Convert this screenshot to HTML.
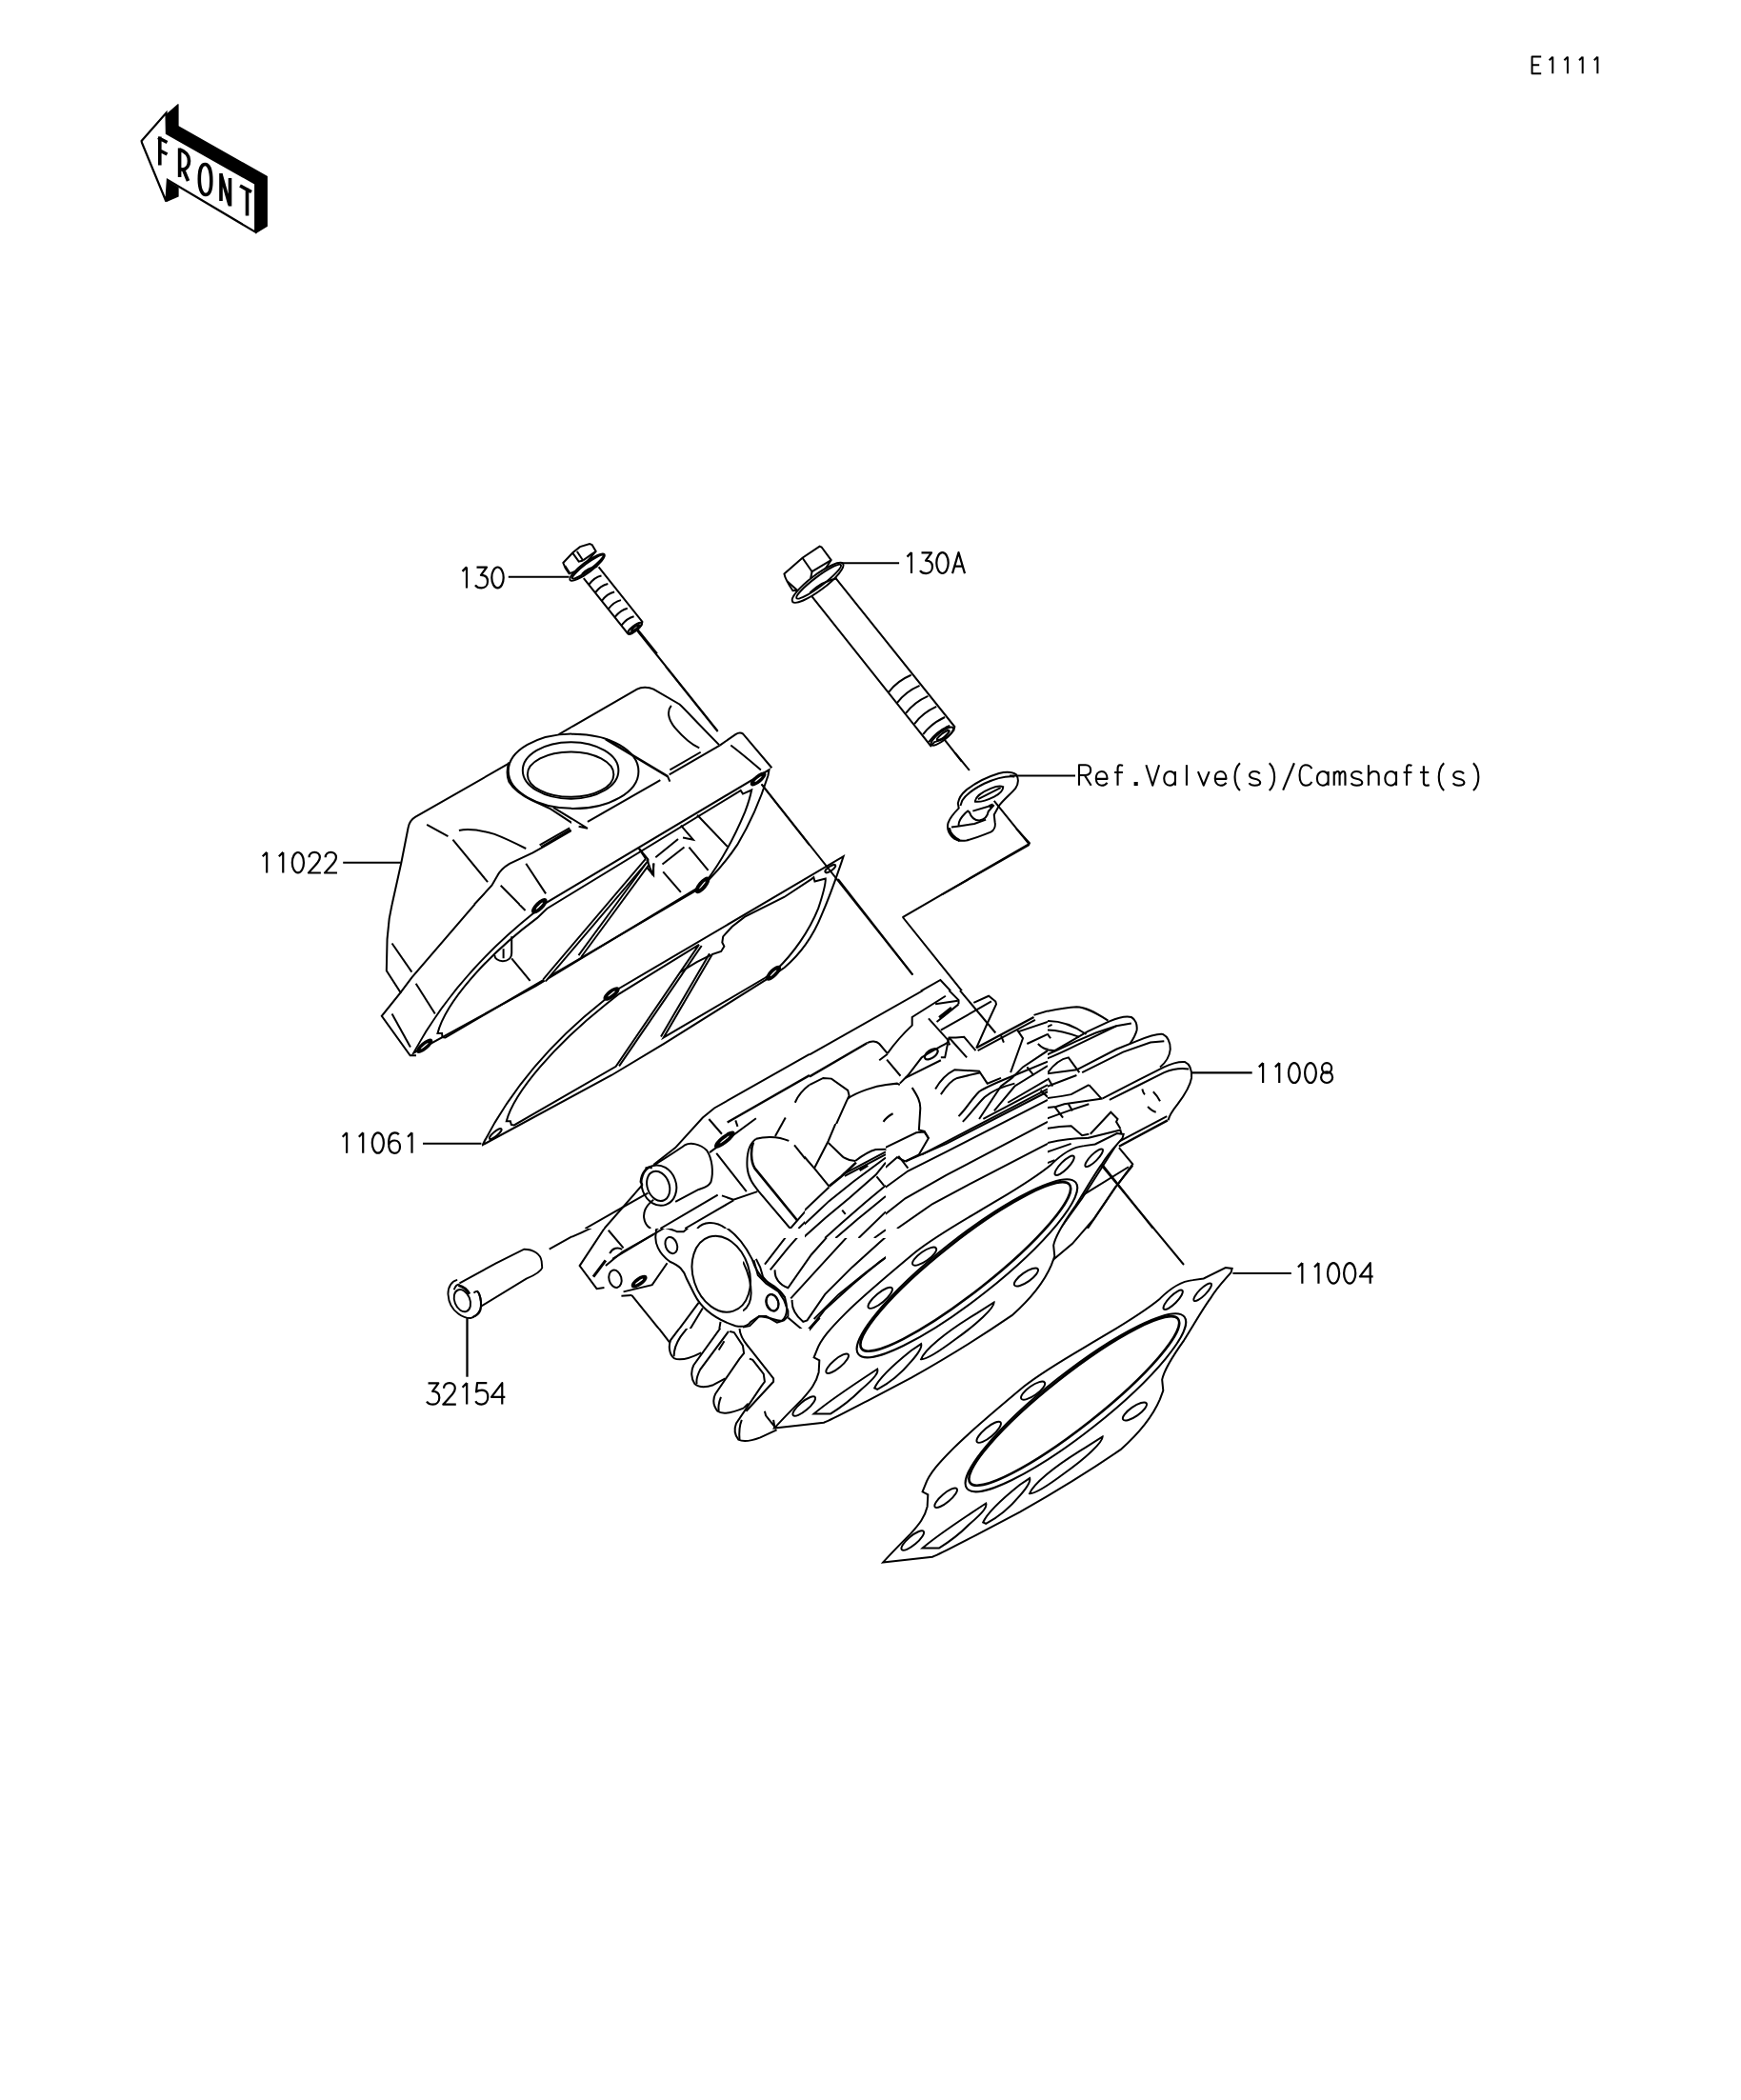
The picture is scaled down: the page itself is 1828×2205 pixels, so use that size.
<!DOCTYPE html>
<html><head><meta charset="utf-8"><style>
html,body{margin:0;padding:0;background:#fff;}
svg{display:block;}
</style></head><body>
<svg xmlns="http://www.w3.org/2000/svg" width="1828" height="2205" viewBox="0 0 1828 2205">
<rect width="1828" height="2205" fill="#fff"/>
<g id="front">
<path d="M174.9,119.5 L186.6,109.3 L187.6,109.3 L187.6,132.2 L280.9,185 L280.9,237.7 L268.2,245.5 L268.2,192.8 L174.9,140 Z" fill="#000"/>
<path d="M175,189 L187.6,196.7 L187.6,206.4 L174.4,212.3 Z" fill="#000"/>
<path d="M148.6,148 L174.5,118.5 L174.9,140 L268.2,192.8 L268.2,243.6 L175.9,188.9 L174.4,211.5 L149,150 Z" fill="#fff" stroke="#000" stroke-width="2.2" stroke-linejoin="miter"/>
<g fill="none" stroke="#000" stroke-width="3.6" stroke-linecap="butt">
<path d="M167.8,143.5 V173.5 M166,144.5 L175.5,149.5 M167.8,158 L175.5,162"/>
<path d="M188.6,155.5 V186 M188.6,157 C195,159 198.5,163 198.5,169 C198.5,174 196,177.5 192,178 L188.6,177.5 M192.5,178 L197.5,190"/>
<path d="M215.3,172.5 C219.5,172.5 221.8,180 221.8,190 C221.8,200 219.5,204.5 216,204.5 C212,204.5 209.3,198 209.3,188 C209.3,178.5 211.5,172.5 215.3,172.5 Z"/>
<path d="M232,182 V211 M232,183 L241,215 M241.5,187 V216.5"/>
<path d="M252,195 L264,201.5 M259.5,197.5 V226.5"/>
</g></g>
<g fill="none" stroke="#000" stroke-width="2.500" stroke-linecap="butt" stroke-linejoin="round" ><g transform="translate(1607.80,59.60) scale(0.8000)"><path d="M13,0 H1 V22 H13 M1,10.7 H10.5"/></g><g transform="translate(1623.50,59.60) scale(0.8000)"><path d="M8.5,0 V22 M8.5,0 L4,4.5"/></g><g transform="translate(1639.20,59.60) scale(0.8000)"><path d="M8.5,0 V22 M8.5,0 L4,4.5"/></g><g transform="translate(1654.90,59.60) scale(0.8000)"><path d="M8.5,0 V22 M8.5,0 L4,4.5"/></g><g transform="translate(1670.60,59.60) scale(0.8000)"><path d="M8.5,0 V22 M8.5,0 L4,4.5"/></g></g>
<g fill="none" stroke="#000" stroke-width="2.200" stroke-linecap="butt" stroke-linejoin="round" ><g transform="translate(481.50,595.40) scale(1.0000)"><path d="M8.5,0 V22 M8.5,0 L4,4.5"/></g><g transform="translate(498.50,595.40) scale(1.0000)"><path d="M2,0.2 H12.5 L6.5,8.5 C11,8.5 13.5,11 13.5,15 C13.5,19.5 10.5,22 7,22 C4,22 1.8,21 0.5,19"/></g><g transform="translate(515.50,595.40) scale(1.0000)"><ellipse cx="7" cy="11" rx="6.2" ry="10.9"/></g></g>
<g fill="none" stroke="#000" stroke-width="2.200" stroke-linecap="butt" stroke-linejoin="round" ><g transform="translate(948.50,580.10) scale(1.0000)"><path d="M8.5,0 V22 M8.5,0 L4,4.5"/></g><g transform="translate(965.50,580.10) scale(1.0000)"><path d="M2,0.2 H12.5 L6.5,8.5 C11,8.5 13.5,11 13.5,15 C13.5,19.5 10.5,22 7,22 C4,22 1.8,21 0.5,19"/></g><g transform="translate(982.50,580.10) scale(1.0000)"><ellipse cx="7" cy="11" rx="6.2" ry="10.9"/></g><g transform="translate(999.50,580.10) scale(1.0000)"><path d="M0.5,22 L7,0 L13.5,22 M2.8,14.5 H11.2"/></g></g>
<g fill="none" stroke="#000" stroke-width="2.149" stroke-linecap="butt" stroke-linejoin="round" ><g transform="translate(1132.00,803.20) scale(0.9773)"><path d="M1,22 V0 H8 C11.5,0 13.5,2.5 13.5,5.5 C13.5,9 11.5,11 8,11 H1 M7,11 L14,22"/></g><g transform="translate(1149.85,803.20) scale(0.9773)"><path d="M1,15 H13 C13,10 10.5,7 7,7 C3,7 1,10.5 1,14.5 C1,19 3.5,22 7,22 C9.5,22 11.5,21 13,19"/></g><g transform="translate(1167.70,803.20) scale(0.9773)"><path d="M11.5,0.8 C10.5,0.2 9.5,0 8.5,0 C6.8,0 6,1.5 6,4 V22 M2.5,8 H11.5"/></g><g transform="translate(1185.55,803.20) scale(0.9773)"><rect x="5.2" y="18.2" width="4.2" height="4.2" fill="#000" stroke="none"/></g><g transform="translate(1203.40,803.20) scale(0.9773)"><path d="M0,0 L7,22 L14,0"/></g><g transform="translate(1221.25,803.20) scale(0.9773)"><path d="M13,7 V22 M13,11.5 C12,8.5 10,7 7,7 C3.5,7 1,10.5 1,14.5 C1,19 3.5,22 7,22 C10,22 12,20 13,17.5"/></g><g transform="translate(1239.10,803.20) scale(0.9773)"><path d="M7,0 V22"/></g><g transform="translate(1256.95,803.20) scale(0.9773)"><path d="M1,7 L7,22 L13,7"/></g><g transform="translate(1274.80,803.20) scale(0.9773)"><path d="M1,15 H13 C13,10 10.5,7 7,7 C3,7 1,10.5 1,14.5 C1,19 3.5,22 7,22 C9.5,22 11.5,21 13,19"/></g><g transform="translate(1292.65,803.20) scale(0.9773)"><path d="M9.5,-2 C5.5,2 4,6.5 4,13 C4,19.5 5.5,23.5 9.5,27.5"/></g><g transform="translate(1310.50,803.20) scale(0.9773)"><path d="M12.5,9.5 C11.5,7.8 9.5,7 7,7 C4,7 1.5,8.5 1.5,11 C1.5,13.5 4,14.2 7,14.8 C10.5,15.5 13,16.5 13,19 C13,21 10.5,22 7,22 C4,22 2,21 1,19.5"/></g><g transform="translate(1328.35,803.20) scale(0.9773)"><path d="M4.5,-2 C8.5,2 10,6.5 10,13 C10,19.5 8.5,23.5 4.5,27.5"/></g><g transform="translate(1346.20,803.20) scale(0.9773)"><path d="M13,-2 L1,27"/></g><g transform="translate(1364.05,803.20) scale(0.9773)"><path d="M13.5,4 C12.5,1.5 10,0 7,0 C3,0 0.5,4.5 0.5,11 C0.5,17.5 3,22 7,22 C10,22 12.5,20.5 13.5,18"/></g><g transform="translate(1381.90,803.20) scale(0.9773)"><path d="M13,7 V22 M13,11.5 C12,8.5 10,7 7,7 C3.5,7 1,10.5 1,14.5 C1,19 3.5,22 7,22 C10,22 12,20 13,17.5"/></g><g transform="translate(1399.75,803.20) scale(0.9773)"><path d="M1,22 V7 M1,11 C2,8.5 3.5,7 5,7 C6.5,7 7,8.5 7,11 V22 M7,11 C8,8.5 9.5,7 11,7 C12.5,7 13,8.5 13,11 V22"/></g><g transform="translate(1417.60,803.20) scale(0.9773)"><path d="M12.5,9.5 C11.5,7.8 9.5,7 7,7 C4,7 1.5,8.5 1.5,11 C1.5,13.5 4,14.2 7,14.8 C10.5,15.5 13,16.5 13,19 C13,21 10.5,22 7,22 C4,22 2,21 1,19.5"/></g><g transform="translate(1435.45,803.20) scale(0.9773)"><path d="M1.5,0 V22 M1.5,11.5 C3,8.5 5,7 7.5,7 C10.5,7 12.5,9 12.5,12 V22"/></g><g transform="translate(1453.30,803.20) scale(0.9773)"><path d="M13,7 V22 M13,11.5 C12,8.5 10,7 7,7 C3.5,7 1,10.5 1,14.5 C1,19 3.5,22 7,22 C10,22 12,20 13,17.5"/></g><g transform="translate(1471.15,803.20) scale(0.9773)"><path d="M11.5,0.8 C10.5,0.2 9.5,0 8.5,0 C6.8,0 6,1.5 6,4 V22 M2.5,8 H11.5"/></g><g transform="translate(1489.00,803.20) scale(0.9773)"><path d="M6,1 V19 C6,21 7,22 9,22 C10,22 11,21.8 12,21.5 M2,8 H11.5"/></g><g transform="translate(1506.85,803.20) scale(0.9773)"><path d="M9.5,-2 C5.5,2 4,6.5 4,13 C4,19.5 5.5,23.5 9.5,27.5"/></g><g transform="translate(1524.70,803.20) scale(0.9773)"><path d="M12.5,9.5 C11.5,7.8 9.5,7 7,7 C4,7 1.5,8.5 1.5,11 C1.5,13.5 4,14.2 7,14.8 C10.5,15.5 13,16.5 13,19 C13,21 10.5,22 7,22 C4,22 2,21 1,19.5"/></g><g transform="translate(1542.55,803.20) scale(0.9773)"><path d="M4.5,-2 C8.5,2 10,6.5 10,13 C10,19.5 8.5,23.5 4.5,27.5"/></g></g>
<g fill="none" stroke="#000" stroke-width="2.241" stroke-linecap="butt" stroke-linejoin="round" ><g transform="translate(271.80,894.90) scale(0.9818)"><path d="M8.5,0 V22 M8.5,0 L4,4.5"/></g><g transform="translate(288.90,894.90) scale(0.9818)"><path d="M8.5,0 V22 M8.5,0 L4,4.5"/></g><g transform="translate(306.00,894.90) scale(0.9818)"><ellipse cx="7" cy="11" rx="6.2" ry="10.9"/></g><g transform="translate(323.10,894.90) scale(0.9818)"><path d="M1.5,5.5 C1.5,2 4,0 7.2,0 C10.5,0 13,2.2 13,5.5 C13,9 10.5,11.5 0.8,22 H14"/></g><g transform="translate(340.20,894.90) scale(0.9818)"><path d="M1.5,5.5 C1.5,2 4,0 7.2,0 C10.5,0 13,2.2 13,5.5 C13,9 10.5,11.5 0.8,22 H14"/></g></g>
<g fill="none" stroke="#000" stroke-width="2.251" stroke-linecap="butt" stroke-linejoin="round" ><g transform="translate(355.80,1189.30) scale(0.9773)"><path d="M8.5,0 V22 M8.5,0 L4,4.5"/></g><g transform="translate(372.90,1189.30) scale(0.9773)"><path d="M8.5,0 V22 M8.5,0 L4,4.5"/></g><g transform="translate(390.00,1189.30) scale(0.9773)"><ellipse cx="7" cy="11" rx="6.2" ry="10.9"/></g><g transform="translate(407.10,1189.30) scale(0.9773)"><path d="M12,2 C11,0.7 9.5,0 7.8,0 C3.5,0 1,4.5 1,11.5 C1,18.5 3.5,22 7.2,22 C10.8,22 13.2,19.3 13.2,15.2 C13.2,11 10.8,8.4 7.4,8.4 C4.2,8.4 2,10.5 1.1,13.5"/></g><g transform="translate(424.20,1189.30) scale(0.9773)"><path d="M8.5,0 V22 M8.5,0 L4,4.5"/></g></g>
<g fill="none" stroke="#000" stroke-width="2.305" stroke-linecap="butt" stroke-linejoin="round" ><g transform="translate(1318.00,1116.10) scale(0.9545)"><path d="M8.5,0 V22 M8.5,0 L4,4.5"/></g><g transform="translate(1335.10,1116.10) scale(0.9545)"><path d="M8.5,0 V22 M8.5,0 L4,4.5"/></g><g transform="translate(1352.20,1116.10) scale(0.9545)"><ellipse cx="7" cy="11" rx="6.2" ry="10.9"/></g><g transform="translate(1369.30,1116.10) scale(0.9545)"><ellipse cx="7" cy="11" rx="6.2" ry="10.9"/></g><g transform="translate(1386.40,1116.10) scale(0.9545)"><ellipse cx="7" cy="5.6" rx="5.3" ry="5.5"/><ellipse cx="7" cy="15.8" rx="6.3" ry="6.1"/></g></g>
<g fill="none" stroke="#000" stroke-width="2.241" stroke-linecap="butt" stroke-linejoin="round" ><g transform="translate(1359.00,1326.10) scale(0.9818)"><path d="M8.5,0 V22 M8.5,0 L4,4.5"/></g><g transform="translate(1376.10,1326.10) scale(0.9818)"><path d="M8.5,0 V22 M8.5,0 L4,4.5"/></g><g transform="translate(1393.20,1326.10) scale(0.9818)"><ellipse cx="7" cy="11" rx="6.2" ry="10.9"/></g><g transform="translate(1410.30,1326.10) scale(0.9818)"><ellipse cx="7" cy="11" rx="6.2" ry="10.9"/></g><g transform="translate(1427.40,1326.10) scale(0.9818)"><path d="M11.5,22 V0 L0.5,14.5 H14.5"/></g></g>
<g fill="none" stroke="#000" stroke-width="2.151" stroke-linecap="butt" stroke-linejoin="round" ><g transform="translate(447.50,1452.10) scale(1.0227)"><path d="M2,0.2 H12.5 L6.5,8.5 C11,8.5 13.5,11 13.5,15 C13.5,19.5 10.5,22 7,22 C4,22 1.8,21 0.5,19"/></g><g transform="translate(464.50,1452.10) scale(1.0227)"><path d="M1.5,5.5 C1.5,2 4,0 7.2,0 C10.5,0 13,2.2 13,5.5 C13,9 10.5,11.5 0.8,22 H14"/></g><g transform="translate(481.50,1452.10) scale(1.0227)"><path d="M8.5,0 V22 M8.5,0 L4,4.5"/></g><g transform="translate(498.50,1452.10) scale(1.0227)"><path d="M12.5,0 H2.5 L1.5,9.2 C3,8 5,7.4 7.3,7.4 C11,7.4 13.5,10 13.5,14.5 C13.5,19 10.5,22 7,22 C4,22 1.8,20.8 0.8,18.8"/></g><g transform="translate(515.50,1452.10) scale(1.0227)"><path d="M11.5,22 V0 L0.5,14.5 H14.5"/></g></g>
<g stroke="#000" stroke-width="2.0" fill="none">
<path d="M533.8,605.7 H597.6"/>
<path d="M880.7,591.2 H944.1"/>
<path d="M1060,814.4 H1129"/>
<path d="M360.2,905.8 H420.8"/>
<path d="M444,1200.8 H505.4"/>
<path d="M1252,1126.4 H1314.7" stroke-width="2.2"/>
<path d="M1294.4,1337 H1355.8"/>
<path d="M490.5,1384.1 V1445.7" stroke-width="2.3"/>
</g>
<clipPath id="c0"><rect x="385" y="700" width="215" height="250"/></clipPath>
<g clip-path="url(#c0)"><g transform="translate(390,700) scale(0.143596)">
<path d="M150,1741 L218,1435 L268,1180 C275,1140 295,1115 320,1100 L1010,705" fill="none" stroke="#000" stroke-width="13.93"/>
<path d="M1370,495 L1741,280" fill="none" stroke="#000" stroke-width="13.93"/>
<ellipse cx="1477.0" cy="763.0" rx="476.0" ry="273.0" transform="rotate(0 1477.0 763.0)" fill="none" stroke="#000" stroke-width="13.93"/>
<ellipse cx="1456.0" cy="759.0" rx="350.0" ry="207.0" transform="rotate(0 1456.0 759.0)" fill="none" stroke="#000" stroke-width="13.93"/>
<ellipse cx="1456.0" cy="788.0" rx="315.0" ry="165.0" transform="rotate(0 1456.0 788.0)" fill="none" stroke="#000" stroke-width="13.93"/>
<path d="M1005,700 C990,740 988,800 1005,840 C1035,890 1100,940 1170,975 L1310,1040 L1470,1145" fill="none" stroke="#000" stroke-width="13.93"/>
<path d="M1330,1030 L1580,1182 L1515,1168 L1270,1310 L1180,1360 L1010,1440 C960,1470 935,1500 920,1530 L880,1600 L750,1741" fill="none" stroke="#000" stroke-width="13.93"/>
<path d="M1230,1305 L1450,1180" fill="none" stroke="#000" stroke-width="13.93"/>
<path d="M1240,1318 L1455,1192" fill="none" stroke="#000" stroke-width="13.93"/>
<path d="M1580,1135 L1741,1040" fill="none" stroke="#000" stroke-width="13.93"/>
<path d="M405,1155 L560,1240" fill="none" stroke="#000" stroke-width="13.93"/>
<path d="M595,1265 L850,1575" fill="none" stroke="#000" stroke-width="13.93"/>
<path d="M640,1198 C700,1185 780,1190 900,1225 C980,1255 1060,1295 1130,1330" fill="none" stroke="#000" stroke-width="13.93"/>
<path d="M1130,1440 L1275,1660" fill="none" stroke="#000" stroke-width="13.93"/>
<path d="M945,1600 L1085,1741" fill="none" stroke="#000" stroke-width="13.93"/>
</g></g>
<clipPath id="c1"><rect x="600" y="700" width="250" height="250"/></clipPath>
<g clip-path="url(#c1)"><g transform="translate(600,700) scale(0.143596)">
<path d="M0,442 L480,165 C510,148 560,145 600,165 L790,275 C830,310 900,390 1080,572" fill="none" stroke="#000" stroke-width="13.93"/>
<path d="M730,285 C700,320 700,380 760,450 C820,520 880,570 935,595" fill="none" stroke="#000" stroke-width="13.93"/>
<path d="M690,0 L1070,475" fill="none" stroke="#000" stroke-width="13.93"/>
<path d="M1390,860 L1741,1305" fill="none" stroke="#000" stroke-width="13.93"/>
<ellipse cx="14.6" cy="765.3" rx="476.0" ry="273.0" transform="rotate(0 14.6 765.3)" fill="none" stroke="#000" stroke-width="13.93"/>
<ellipse cx="-6.0" cy="759.0" rx="350.0" ry="207.0" transform="rotate(0 -6.0 759.0)" fill="none" stroke="#000" stroke-width="13.93"/>
<ellipse cx="-6.0" cy="788.0" rx="315.0" ry="165.0" transform="rotate(0 -6.0 788.0)" fill="none" stroke="#000" stroke-width="13.93"/>
<path d="M250,530 L700,800" fill="none" stroke="#000" stroke-width="16.71"/>
<path d="M700,795 L720,840" fill="none" stroke="#000" stroke-width="13.93"/>
<path d="M118,1135 L650,830" fill="none" stroke="#000" stroke-width="13.93"/>
<path d="M-132,1030 L118,1182 L53,1168" fill="none" stroke="#000" stroke-width="13.93"/>
<path d="M715,790 L1085,575" fill="none" stroke="#000" stroke-width="13.93"/>
<path d="M720,755 L945,625" fill="none" stroke="#000" stroke-width="13.93"/>
<path d="M1085,575 L1200,495 C1220,482 1240,480 1255,492 L1465,740" fill="none" stroke="#000" stroke-width="13.93"/>
<path d="M1165,575 C1250,640 1320,700 1385,755" fill="none" stroke="#000" stroke-width="13.93"/>
<path d="M920,1085 L1140,1315" fill="none" stroke="#000" stroke-width="13.93"/>
<path d="M800,1160 L890,1265 L815,1250" fill="none" stroke="#000" stroke-width="13.93"/>
<path d="M615,1395 L780,1260" fill="none" stroke="#000" stroke-width="13.93"/>
<path d="M665,1445 L825,1320" fill="none" stroke="#000" stroke-width="13.93"/>
<path d="M860,1320 L1000,1490" fill="none" stroke="#000" stroke-width="13.93"/>
<path d="M670,1500 L800,1650" fill="none" stroke="#000" stroke-width="13.93"/>
<path d="M495,1330 L560,1410 L560,1440 L545,1460 L600,1525 L600,1440" fill="none" stroke="#000" stroke-width="13.93"/>
</g></g>
<clipPath id="c2"><rect x="400" y="780" width="600" height="450"/></clipPath>
<g clip-path="url(#c2)"><g transform="translate(495,885) scale(0.229753)">
<path d="M52,1378 Q240,1010 600,725 L650,680 L1700,62 L1690,92 C1670,150 1640,240 1600,330 C1560,430 1500,510 1430,570 L1390,598 L880,918 L640,1062 L52,1380 Z" fill="none" stroke="#000" stroke-width="8.71"/>
<path d="M160,1272 L178,1272 L182,1288 L195,1290 L660,1022 L1040,465 L675,690 L612,740 C380,925 195,1140 160,1272 Z" fill="none" stroke="#000" stroke-width="8.71"/>
<path d="M1052,470 L675,1020" fill="none" stroke="#000" stroke-width="8.71"/>
<path d="M1100,510 L878,890 L1340,618 L1385,588 C1470,510 1545,400 1585,300 C1605,240 1620,190 1618,163 L1569,176 L1564,158 L1555,165 L1429,248 L1249,338 L1191,383 L1150,428 L1146,455 L1155,473 L1141,496 Z" fill="none" stroke="#000" stroke-width="8.71"/>
<path d="M1088,506 L866,886" fill="none" stroke="#000" stroke-width="8.71"/>
<path d="M1095,512 L1030,545 L955,590" fill="none" stroke="#000" stroke-width="8.71"/>
<ellipse cx="640.0" cy="690.0" rx="40.0" ry="15.0" transform="rotate(-38.0 640.0 690.0)" fill="#000" stroke="#000" stroke-width="8.71"/>
<ellipse cx="640.0" cy="690.0" rx="20.0" ry="3.0" transform="rotate(-38.0 640.0 690.0)" fill="#fff" stroke="#000" stroke-width="0.04"/>
<ellipse cx="1380.0" cy="595.0" rx="40.0" ry="15.0" transform="rotate(-45.0 1380.0 595.0)" fill="#000" stroke="#000" stroke-width="8.71"/>
<ellipse cx="1380.0" cy="595.0" rx="20.0" ry="3.0" transform="rotate(-45.0 1380.0 595.0)" fill="#fff" stroke="#000" stroke-width="0.04"/>
<ellipse cx="110.0" cy="1330.0" rx="35.0" ry="10.0" transform="rotate(-40.0 110.0 1330.0)" fill="none" stroke="#000" stroke-width="8.71"/>
<ellipse cx="1640.0" cy="118.0" rx="28.0" ry="10.0" transform="rotate(-35.0 1640.0 118.0)" fill="none" stroke="#000" stroke-width="8.71"/>
</g></g>
<clipPath id="c3"><rect x="400" y="700" width="600" height="530"/></clipPath>
<g clip-path="url(#c3)"><g transform="translate(425,795) scale(0.229753)">
<path d="M40,1352 Q230,1000 590,712 L625,678 L1665,58 L1660,85 C1630,180 1580,300 1520,400 C1480,460 1440,510 1385,565 L1360,585 L600,1045 L40,1352 Z" fill="none" stroke="#000" stroke-width="8.71"/>
<path d="M150,1262 L170,1262 L172,1280 L185,1282 L1330,610 L1372,575 C1445,480 1505,370 1555,250 C1570,210 1580,175 1585,150 L1545,168 L1535,152 L1520,162 L650,692 L605,735 C368,912 185,1125 150,1262 Z" fill="none" stroke="#000" stroke-width="8.71"/>
<path d="M1070,418 L1102,465" fill="none" stroke="#000" stroke-width="8.71"/>
<path d="M1106,470 L638,1020" fill="none" stroke="#000" stroke-width="22.63" stroke-linejoin="miter" stroke-miterlimit="20"/>
<path d="M1106,470 L638,1020" fill="none" stroke="#fff" stroke-width="6.09" stroke-linejoin="miter" stroke-miterlimit="20"/>
<path d="M1112,485 L800,910" fill="none" stroke="#000" stroke-width="22.63" stroke-linejoin="miter" stroke-miterlimit="20"/>
<path d="M1112,485 L800,910" fill="none" stroke="#fff" stroke-width="6.09" stroke-linejoin="miter" stroke-miterlimit="20"/>
<path d="M1106,467 L1133,539 L1138,485" fill="none" stroke="#000" stroke-width="8.71"/>
<ellipse cx="615.0" cy="680.0" rx="42.0" ry="16.0" transform="rotate(-45.0 615.0 680.0)" fill="#000" stroke="#000" stroke-width="8.71"/>
<ellipse cx="615.0" cy="680.0" rx="22.0" ry="3.0" transform="rotate(-45.0 615.0 680.0)" fill="#fff" stroke="#000" stroke-width="0.04"/>
<ellipse cx="1360.0" cy="585.0" rx="42.0" ry="16.0" transform="rotate(-50.0 1360.0 585.0)" fill="#000" stroke="#000" stroke-width="8.71"/>
<ellipse cx="1360.0" cy="585.0" rx="22.0" ry="3.0" transform="rotate(-50.0 1360.0 585.0)" fill="#fff" stroke="#000" stroke-width="0.04"/>
<ellipse cx="90.0" cy="1320.0" rx="42.0" ry="14.0" transform="rotate(-40.0 90.0 1320.0)" fill="#000" stroke="#000" stroke-width="8.71"/>
<ellipse cx="90.0" cy="1320.0" rx="22.0" ry="3.0" transform="rotate(-40.0 90.0 1320.0)" fill="#fff" stroke="#000" stroke-width="0.04"/>
<ellipse cx="1615.0" cy="100.0" rx="40.0" ry="14.0" transform="rotate(-40.0 1615.0 100.0)" fill="#000" stroke="#000" stroke-width="8.71"/>
<ellipse cx="1615.0" cy="100.0" rx="20.0" ry="3.0" transform="rotate(-40.0 1615.0 100.0)" fill="#fff" stroke="#000" stroke-width="0.04"/>
</g></g>
<clipPath id="c4"><rect x="385" y="950" width="250" height="200"/></clipPath>
<g clip-path="url(#c4)"><g transform="translate(385,900) scale(0.143596)">
<path d="M262,0 L200,270 L165,450 L150,600 L145,830 L248,990 L110,1162 L318,1450 L362,1450" fill="none" stroke="#000" stroke-width="13.93"/>
<path d="M248,990 L330,880 L905,212 C950,140 985,105 1050,50 L1165,0" fill="none" stroke="#000" stroke-width="13.93"/>
<path d="M185,630 L330,840" fill="none" stroke="#000" stroke-width="13.93"/>
<path d="M360,925 L500,1145" fill="none" stroke="#000" stroke-width="13.93"/>
<path d="M185,1145 L320,1390" fill="none" stroke="#000" stroke-width="13.93"/>
<path d="M980,210 L1160,390" fill="none" stroke="#000" stroke-width="13.93"/>
<path d="M1165,45 L1310,260" fill="none" stroke="#000" stroke-width="13.93"/>
<path d="M730,0 L885,185" fill="none" stroke="#000" stroke-width="13.93"/>
<path d="M1060,740 L1195,905" fill="none" stroke="#000" stroke-width="13.93"/>
<path d="M1060,580 L1060,700 C1060,740 1030,760 995,760 C960,760 935,740 935,715" fill="none" stroke="#000" stroke-width="13.93"/>
<path d="M1000,670 L1000,740" fill="none" stroke="#000" stroke-width="13.93"/>
</g></g>
<clipPath id="c5"><rect x="560" y="1105" width="285" height="185"/><rect x="845" y="1105" width="5" height="75"/></clipPath>
<g clip-path="url(#c5)"><g transform="translate(600,1040) scale(0.143596)">
<path d="M1741,465 L1045,860 L960,930 L760,1150 L600,1275" fill="none" stroke="#000" stroke-width="13.93"/>
<path d="M1741,620 L1140,965" fill="none" stroke="#000" stroke-width="16.71"/>
<path d="M1200,950 L1215,995" fill="none" stroke="#000" stroke-width="13.93"/>
<path d="M1350,935 L1010,1185" fill="none" stroke="#000" stroke-width="13.93"/>
<ellipse cx="1120.0" cy="1090.0" rx="85.0" ry="24.0" transform="rotate(-38.0 1120.0 1090.0)" fill="#000" stroke="#000" stroke-width="13.93"/>
<ellipse cx="1120.0" cy="1090.0" rx="45.0" ry="5.0" transform="rotate(-38.0 1120.0 1090.0)" fill="#fff" stroke="#000" stroke-width="0.07"/>
<path d="M1005,940 L1100,1050" fill="none" stroke="#000" stroke-width="13.93"/>
<path d="M1060,1190 L1280,1470" fill="none" stroke="#000" stroke-width="13.93"/>
<path d="M600,1280 C680,1230 760,1180 830,1130 C870,1110 940,1120 990,1170 C1030,1230 1040,1330 1020,1400 C1000,1440 960,1445 930,1455 L760,1545" fill="none" stroke="#000" stroke-width="13.93"/>
<ellipse cx="640.0" cy="1425.0" rx="125.0" ry="150.0" transform="rotate(-20.0 640.0 1425.0)" fill="none" stroke="#000" stroke-width="13.93"/>
<ellipse cx="635.0" cy="1430.0" rx="80.0" ry="112.0" transform="rotate(-20.0 635.0 1430.0)" fill="none" stroke="#000" stroke-width="13.93"/>
<path d="M590,1285 C550,1290 510,1330 505,1400 L520,1420" fill="none" stroke="#000" stroke-width="13.93"/>
<path d="M540,1300 C560,1290 580,1295 590,1300" fill="none" stroke="#000" stroke-width="13.93"/>
<path d="M520,1420 L240,1741" fill="none" stroke="#000" stroke-width="13.93"/>
<path d="M560,1480 L100,1741" fill="none" stroke="#000" stroke-width="13.93"/>
<path d="M600,1530 C560,1560 525,1600 530,1660 C535,1700 560,1730 580,1741" fill="none" stroke="#000" stroke-width="13.93"/>
<path d="M650,1741 L1070,1495" fill="none" stroke="#000" stroke-width="13.93"/>
<path d="M1100,1500 L1185,1530 L1360,1470" fill="none" stroke="#000" stroke-width="13.93"/>
<path d="M830,1741 L1185,1535" fill="none" stroke="#000" stroke-width="13.93"/>
<path d="M920,1741 C960,1690 1050,1680 1130,1741" fill="none" stroke="#000" stroke-width="13.93"/>
<path d="M1350,1085 C1300,1120 1280,1200 1285,1290 C1290,1370 1330,1420 1370,1470 L1600,1741" fill="none" stroke="#000" stroke-width="13.93"/>
<path d="M1330,1110 C1310,1160 1310,1250 1340,1300 L1650,1680" fill="none" stroke="#000" stroke-width="18.11"/>
<path d="M1350,1085 C1400,1070 1500,1060 1590,1100" fill="none" stroke="#000" stroke-width="13.93"/>
<path d="M1490,1065 L1565,930" fill="none" stroke="#000" stroke-width="13.93"/>
<path d="M1630,1130 L1741,1270" fill="none" stroke="#000" stroke-width="13.93"/>
<path d="M1635,820 C1660,760 1700,720 1741,690" fill="none" stroke="#000" stroke-width="13.93"/>
<path d="M1600,1741 L1741,1580" fill="none" stroke="#000" stroke-width="13.93"/>
<path d="M1660,1741 L1741,1660" fill="none" stroke="#000" stroke-width="13.93"/>
</g></g>
<clipPath id="c6"><rect x="560" y="1290" width="285" height="105"/><rect x="845" y="1300" width="5" height="95"/></clipPath>
<g clip-path="url(#c6)"><g transform="translate(600,1230) scale(0.143596)">
<path d="M0,480 C120,430 250,360 350,290 L440,220 L640,110" fill="none" stroke="#000" stroke-width="13.93"/>
<path d="M520,97 L240,418 L60,690 L185,858 L240,850" fill="none" stroke="#000" stroke-width="13.93"/>
<path d="M160,770 L250,650" fill="none" stroke="#000" stroke-width="20.89"/>
<ellipse cx="320.0" cy="785.0" rx="45.0" ry="65.0" transform="rotate(-15.0 320.0 785.0)" fill="none" stroke="#000" stroke-width="13.93"/>
<path d="M280,600 C300,560 340,550 370,570" fill="none" stroke="#000" stroke-width="13.93"/>
<path d="M270,430 L380,560" fill="none" stroke="#000" stroke-width="13.93"/>
<path d="M250,690 L370,590 L600,460" fill="none" stroke="#000" stroke-width="13.93"/>
<path d="M300,640 L700,400" fill="none" stroke="#000" stroke-width="13.93"/>
<ellipse cx="495.0" cy="805.0" rx="62.0" ry="24.0" transform="rotate(-35.0 495.0 805.0)" fill="#000" stroke="#000" stroke-width="13.93"/>
<ellipse cx="495.0" cy="805.0" rx="35.0" ry="5.0" transform="rotate(-35.0 495.0 805.0)" fill="#fff" stroke="#000" stroke-width="0.07"/>
<path d="M440,905 L720,1250" fill="none" stroke="#000" stroke-width="13.93"/>
<path d="M365,910 L440,905" fill="none" stroke="#000" stroke-width="13.93"/>
<path d="M380,880 L590,830 L700,670" fill="none" stroke="#000" stroke-width="13.93"/>
<path d="M620,440 C600,520 640,600 720,660 C790,690 820,720 840,780 L900,900 C950,1000 1050,1080 1200,1130 C1250,1140 1290,1130 1310,1100 L1370,1060 C1450,1060 1500,1100 1540,1090 C1580,1060 1580,990 1560,920 C1520,860 1470,830 1420,800 C1370,760 1340,700 1320,640 C1260,520 1180,430 1080,380 C1000,350 920,360 880,390 L820,440 L770,440 C720,420 680,400 640,410 C620,420 615,430 620,440" fill="none" stroke="#000" stroke-width="13.93"/>
<ellipse cx="1095.0" cy="750.0" rx="205.0" ry="285.0" transform="rotate(-18.0 1095.0 750.0)" fill="none" stroke="#000" stroke-width="13.93"/>
<ellipse cx="730.0" cy="540.0" rx="42.0" ry="62.0" transform="rotate(-20.0 730.0 540.0)" fill="none" stroke="#000" stroke-width="13.93"/>
<ellipse cx="1470.0" cy="960.0" rx="42.0" ry="62.0" transform="rotate(-20.0 1470.0 960.0)" fill="none" stroke="#000" stroke-width="13.93"/>
<path d="M720,1230 C710,1300 720,1360 780,1375 C850,1380 920,1350 950,1320" fill="none" stroke="#000" stroke-width="13.93"/>
<path d="M730,1230 L930,960" fill="none" stroke="#000" stroke-width="13.93"/>
<path d="M760,1330 L960,1000" fill="none" stroke="#000" stroke-width="13.93"/>
<path d="M890,1420 C875,1480 880,1540 940,1580 C1000,1590 1060,1560 1100,1520" fill="none" stroke="#000" stroke-width="13.93"/>
<path d="M890,1420 L1150,1170" fill="none" stroke="#000" stroke-width="13.93"/>
<path d="M920,1520 L1160,1230" fill="none" stroke="#000" stroke-width="13.93"/>
<path d="M1040,1640 C1035,1690 1040,1720 1050,1741" fill="none" stroke="#000" stroke-width="13.93"/>
<path d="M1050,1640 L1300,1380" fill="none" stroke="#000" stroke-width="13.93"/>
<path d="M1080,1741 L1320,1470" fill="none" stroke="#000" stroke-width="13.93"/>
<path d="M1090,1100 L1080,1160 L1000,1250 L910,1370" fill="none" stroke="#000" stroke-width="13.93"/>
<path d="M1230,1150 L1260,1260 L1480,1520 L1470,1545" fill="none" stroke="#000" stroke-width="13.93"/>
<path d="M1150,1170 L1250,1290 L1250,1350 L1000,1741" fill="none" stroke="#000" stroke-width="13.93"/>
<path d="M1300,1380 L1410,1490 L1270,1741" fill="none" stroke="#000" stroke-width="13.93"/>
<path d="M1510,1510 L1700,1400 L1741,1350" fill="none" stroke="#000" stroke-width="13.93"/>
<path d="M1350,640 L1380,700 L1400,770 L1450,830 L1520,870 L1560,920" fill="none" stroke="#000" stroke-width="13.93"/>
</g></g>
<clipPath id="c7"><rect x="1100" y="1040" width="250" height="250"/></clipPath>
<g clip-path="url(#c7)"><g transform="translate(1050,1040) scale(0.143596)">
<path d="M0,330 L250,190" fill="none" stroke="#000" stroke-width="18.11"/>
<path d="M0,360 L250,215" fill="none" stroke="#000" stroke-width="13.93"/>
<path d="M250,175 C350,150 450,125 560,120 C620,122 680,150 790,220" fill="none" stroke="#000" stroke-width="13.93"/>
<path d="M280,230 C380,210 500,230 630,320" fill="none" stroke="#000" stroke-width="13.93"/>
<path d="M300,290 C400,280 500,310 580,340" fill="none" stroke="#000" stroke-width="13.93"/>
<path d="M200,390 L320,320" fill="none" stroke="#000" stroke-width="13.93"/>
<path d="M280,385 C300,410 330,425 350,425" fill="none" stroke="#000" stroke-width="13.93"/>
<path d="M250,250 L270,300" fill="none" stroke="#000" stroke-width="13.93"/>
<path d="M290,240 L370,350" fill="none" stroke="#000" stroke-width="13.93"/>
<path d="M0,430 L120,370 L380,250" fill="none" stroke="#000" stroke-width="13.93"/>
<path d="M80,450 L130,510" fill="none" stroke="#000" stroke-width="13.93"/>
<path d="M160,360 L60,590" fill="none" stroke="#000" stroke-width="13.93"/>
<path d="M0,520 C100,470 250,420 400,440 L640,300 L800,225 C860,200 920,185 960,195 C990,210 1005,250 1000,290 C990,330 970,360 950,390" fill="none" stroke="#000" stroke-width="13.93"/>
<path d="M180,560 C250,520 330,470 400,445 M400,445 L560,370 L700,310 L850,260 L960,240" fill="none" stroke="#000" stroke-width="13.93"/>
<path d="M0,650 C100,600 200,540 280,520 C350,500 420,470 560,400 L850,260" fill="none" stroke="#000" stroke-width="13.93"/>
<path d="M350,600 C400,530 450,500 500,490 L580,600" fill="none" stroke="#000" stroke-width="13.93"/>
<path d="M560,580 L850,430 L1000,370 C1100,330 1150,315 1190,320 C1230,340 1245,380 1245,430 C1240,480 1220,520 1170,560" fill="none" stroke="#000" stroke-width="13.93"/>
<path d="M600,600 L900,450 L1100,380 L1200,370" fill="none" stroke="#000" stroke-width="13.93"/>
<path d="M0,750 C100,700 200,650 260,620 L560,580" fill="none" stroke="#000" stroke-width="13.93"/>
<path d="M0,830 C120,780 250,730 350,700 L560,620" fill="none" stroke="#000" stroke-width="13.93"/>
<path d="M350,640 L385,700" fill="none" stroke="#000" stroke-width="13.93"/>
<path d="M300,720 L350,790" fill="none" stroke="#000" stroke-width="13.93"/>
<path d="M650,690 L740,790" fill="none" stroke="#000" stroke-width="13.93"/>
<path d="M400,850 L460,930" fill="none" stroke="#000" stroke-width="13.93"/>
<path d="M500,830 L530,880" fill="none" stroke="#000" stroke-width="13.93"/>
<path d="M0,900 C100,860 200,820 330,790 C400,780 470,770 520,760 L650,690" fill="none" stroke="#000" stroke-width="13.93"/>
<path d="M750,790 L1000,660 L1200,560 C1250,535 1300,520 1350,522 C1390,540 1405,580 1400,640 C1390,700 1360,750 1300,830 C1260,880 1235,920 1230,950" fill="none" stroke="#000" stroke-width="13.93"/>
<path d="M800,800 L1000,700 L1200,600 C1260,575 1320,565 1380,575" fill="none" stroke="#000" stroke-width="13.93"/>
<path d="M1225,950 L870,1140" fill="none" stroke="#000" stroke-width="16.71"/>
<path d="M1220,920 L860,1110" fill="none" stroke="#000" stroke-width="13.93"/>
<path d="M1040,720 C1045,740 1050,755 1060,760" fill="none" stroke="#000" stroke-width="13.93"/>
<path d="M1120,740 C1140,760 1160,790 1170,810" fill="none" stroke="#000" stroke-width="13.93"/>
<path d="M1080,850 C1100,870 1120,885 1140,890" fill="none" stroke="#000" stroke-width="13.93"/>
<path d="M0,990 C100,940 200,900 320,860 L410,850 L470,830 L750,790" fill="none" stroke="#000" stroke-width="13.93"/>
<path d="M0,1080 C150,1010 300,950 500,880 L650,830" fill="none" stroke="#000" stroke-width="13.93"/>
<path d="M0,1120 C150,1060 330,990 520,990 L600,1060 L650,1050" fill="none" stroke="#000" stroke-width="13.93"/>
<path d="M640,1080 L880,1020 L890,1060 L850,1130" fill="none" stroke="#000" stroke-width="13.93"/>
<path d="M660,1050 L810,890 L860,940 L850,960 L880,1010" fill="none" stroke="#000" stroke-width="13.93"/>
<path d="M580,1270 C620,1230 680,1180 780,1130 L790,1150 C740,1190 680,1240 600,1285 Z" fill="none" stroke="#000" stroke-width="13.93"/>
<path d="M360,1330 C400,1280 460,1230 560,1180 L560,1210 C500,1260 440,1300 370,1350 Z" fill="none" stroke="#000" stroke-width="15.32"/>
<path d="M850,1130 L600,1520 L440,1741" fill="none" stroke="#000" stroke-width="13.93"/>
<path d="M970,1280 L850,1430 L640,1741" fill="none" stroke="#000" stroke-width="13.93"/>
<path d="M870,1150 L970,1270 L860,1420" fill="none" stroke="#000" stroke-width="13.93"/>
<path d="M690,1200 L1120,1741" fill="none" stroke="#000" stroke-width="13.93"/>
<path d="M600,1500 L940,1290" fill="none" stroke="#000" stroke-width="13.93"/>
<path d="M0,1230 C200,1150 400,1080 640,1080" fill="none" stroke="#000" stroke-width="13.93"/>
<path d="M0,1300 C200,1230 350,1180 520,1120" fill="none" stroke="#000" stroke-width="13.93"/>
<path d="M0,1400 C150,1340 300,1280 400,1240" fill="none" stroke="#000" stroke-width="13.93"/>
<path d="M0,1470 C100,1440 250,1420 450,1400 C480,1420 480,1470 470,1520 C450,1600 400,1680 350,1741" fill="none" stroke="#000" stroke-width="13.93"/>
<path d="M0,1600 C60,1570 150,1540 340,1510 C360,1540 360,1580 330,1650 L230,1741" fill="none" stroke="#000" stroke-width="13.93"/>
</g></g>
<clipPath id="c8"><rect x="850" y="1040" width="250" height="140"/><rect x="930" y="1180" width="170" height="110"/></clipPath>
<g clip-path="url(#c8)"><g transform="translate(850,1040) scale(0.143596)">
<path d="M0,470 L830,0" fill="none" stroke="#000" stroke-width="13.93"/>
<path d="M0,630 L420,385" fill="none" stroke="#000" stroke-width="16.71"/>
<path d="M420,385 C450,365 490,370 510,390 L570,460" fill="none" stroke="#000" stroke-width="13.93"/>
<path d="M510,510 L570,465" fill="none" stroke="#000" stroke-width="13.93"/>
<path d="M570,460 C620,390 680,320 750,255 L750,195 L995,40" fill="none" stroke="#000" stroke-width="13.93"/>
<path d="M870,205 L1010,360 L1025,400" fill="none" stroke="#000" stroke-width="13.93"/>
<path d="M565,505 L665,625" fill="none" stroke="#000" stroke-width="13.93"/>
<path d="M660,680 L720,620 L820,490 C880,450 960,410 1010,380 L1020,345 L1070,345 L1130,340 L1215,440" fill="none" stroke="#000" stroke-width="13.93"/>
<path d="M700,640 L960,510" fill="none" stroke="#000" stroke-width="13.93"/>
<ellipse cx="890.0" cy="465.0" rx="55.0" ry="28.0" transform="rotate(-35.0 890.0 465.0)" fill="none" stroke="#000" stroke-width="15.32"/>
<path d="M960,490 L990,490 L1010,390" fill="none" stroke="#000" stroke-width="13.93"/>
<path d="M1020,345 L1150,490" fill="none" stroke="#000" stroke-width="13.93"/>
<path d="M1200,90 L1310,40 L1360,80 L1365,100 L1300,240 L1220,420" fill="none" stroke="#000" stroke-width="13.93"/>
<path d="M1020,0 L1090,70 L1090,100" fill="none" stroke="#000" stroke-width="13.93"/>
<path d="M920,100 L1085,75" fill="none" stroke="#000" stroke-width="13.93"/>
<path d="M930,230 L1090,100" fill="none" stroke="#000" stroke-width="13.93"/>
<path d="M950,200 L1040,130" fill="none" stroke="#000" stroke-width="27.86"/>
<path d="M1100,0 L1360,310" fill="none" stroke="#000" stroke-width="13.93"/>
<path d="M960,290 L1330,80" fill="none" stroke="#000" stroke-width="13.93"/>
<path d="M1220,420 L1640,195" fill="none" stroke="#000" stroke-width="16.71"/>
<path d="M1230,440 L1650,215" fill="none" stroke="#000" stroke-width="13.93"/>
<path d="M1400,330 L1420,380" fill="none" stroke="#000" stroke-width="13.93"/>
<path d="M1520,290 L1560,350 L1470,600" fill="none" stroke="#000" stroke-width="13.93"/>
<path d="M1640,180 L1741,150" fill="none" stroke="#000" stroke-width="13.93"/>
<path d="M1530,300 L1741,230" fill="none" stroke="#000" stroke-width="13.93"/>
<path d="M1590,390 L1741,320" fill="none" stroke="#000" stroke-width="13.93"/>
<path d="M1670,390 C1700,420 1720,430 1741,430" fill="none" stroke="#000" stroke-width="13.93"/>
<path d="M0,690 L100,640 L160,645 L280,730 L290,770 L270,810 L140,1100 L40,1300" fill="none" stroke="#000" stroke-width="13.93"/>
<path d="M140,1100 C200,1180 260,1230 340,1250" fill="none" stroke="#000" stroke-width="13.93"/>
<path d="M280,790 C350,740 480,700 560,690 L640,680 L660,690" fill="none" stroke="#000" stroke-width="13.93"/>
<path d="M750,710 C780,760 810,800 810,860 L800,1020 L840,1030 L870,1080 L800,1200 L700,1250" fill="none" stroke="#000" stroke-width="13.93"/>
<path d="M540,960 C560,930 590,910 610,900" fill="none" stroke="#000" stroke-width="13.93"/>
<path d="M920,720 C960,650 1020,600 1060,580 L1240,590 L1300,680 L1400,640" fill="none" stroke="#000" stroke-width="13.93"/>
<path d="M960,760 C1000,700 1050,650 1080,640 L1250,600" fill="none" stroke="#000" stroke-width="13.93"/>
<path d="M1090,920 C1150,860 1180,800 1240,740 C1300,700 1400,660 1500,620 L1741,520" fill="none" stroke="#000" stroke-width="13.93"/>
<path d="M1120,960 C1180,900 1220,840 1280,780 C1340,730 1420,700 1500,680" fill="none" stroke="#000" stroke-width="13.93"/>
<path d="M1240,940 L1400,700 L1480,640 L1560,560 L1741,440" fill="none" stroke="#000" stroke-width="13.93"/>
<path d="M1270,940 L1741,690" fill="none" stroke="#000" stroke-width="13.93"/>
<path d="M1350,880 L1500,700 L1741,550" fill="none" stroke="#000" stroke-width="13.93"/>
<path d="M1450,820 L1741,650" fill="none" stroke="#000" stroke-width="13.93"/>
<path d="M1590,560 L1640,620" fill="none" stroke="#000" stroke-width="13.93"/>
<path d="M1690,730 L1741,780" fill="none" stroke="#000" stroke-width="13.93"/>
<path d="M0,1300 L140,1440" fill="none" stroke="#000" stroke-width="13.93"/>
<path d="M0,1560 L250,1330 L520,1170 L560,1165" fill="none" stroke="#000" stroke-width="13.93"/>
<path d="M130,1440 L350,1250 L530,1160 L780,1040 L840,1035 L870,1080" fill="none" stroke="#000" stroke-width="13.93"/>
<path d="M0,1741 L300,1470 L560,1290 L640,1220 L700,1250" fill="none" stroke="#000" stroke-width="13.93"/>
<path d="M200,1741 L500,1480 L720,1320 L1000,1180 L1741,800" fill="none" stroke="#000" stroke-width="13.93"/>
<path d="M700,1250 L1000,1120 L1741,740" fill="none" stroke="#000" stroke-width="13.93"/>
<path d="M820,1200 L1741,720" fill="none" stroke="#000" stroke-width="13.93"/>
<path d="M500,1360 L550,1430" fill="none" stroke="#000" stroke-width="13.93"/>
<path d="M650,1210 L720,1300" fill="none" stroke="#000" stroke-width="13.93"/>
<path d="M420,1741 L700,1520 L1000,1350 L1741,960" fill="none" stroke="#000" stroke-width="13.93"/>
<path d="M640,1741 L900,1560 L1200,1400 L1741,1120" fill="none" stroke="#000" stroke-width="13.93"/>
</g></g>
<clipPath id="c9"><rect x="780" y="1300" width="150" height="95"/><rect x="850" y="1395" width="80" height="105"/></clipPath>
<g clip-path="url(#c9)"><g transform="translate(780,1250) scale(0.143596)">
<path d="M120,0 L340,270" fill="none" stroke="#000" stroke-width="13.93"/>
<path d="M210,0 L400,210" fill="none" stroke="#000" stroke-width="18.11"/>
<path d="M250,0 L410,190" fill="none" stroke="#000" stroke-width="13.93"/>
<path d="M160,540 L330,320 L430,190 L600,0" fill="none" stroke="#000" stroke-width="13.93"/>
<path d="M200,580 L330,420 L560,160 L720,0" fill="none" stroke="#000" stroke-width="13.93"/>
<path d="M235,580 C228,640 270,690 330,712 L500,470 L700,245 L920,0" fill="none" stroke="#000" stroke-width="13.93"/>
<path d="M350,790 L560,560 L780,320 L1090,0" fill="none" stroke="#000" stroke-width="13.93"/>
<path d="M360,800 C355,860 380,910 440,960 L470,950 L600,760 L800,560 L1000,380 L1300,110 L1420,0" fill="none" stroke="#000" stroke-width="13.93"/>
<path d="M470,1040 L600,870 L800,690 L1000,520 L1200,380 L1500,180 L1741,20" fill="none" stroke="#000" stroke-width="13.93"/>
<path d="M520,940 L700,760 L900,600 L1100,450 L1300,320 L1741,70" fill="none" stroke="#000" stroke-width="13.93"/>
<path d="M0,520 C30,580 60,650 60,750 C60,820 30,860 0,880" fill="none" stroke="#000" stroke-width="13.93"/>
<ellipse cx="215.0" cy="820.0" rx="45.0" ry="62.0" transform="rotate(-15.0 215.0 820.0)" fill="none" stroke="#000" stroke-width="13.93"/>
<path d="M0,1000 L50,990 L120,920 L170,920 L250,965 L300,950 L330,920 L330,880 L300,800 L260,740 L170,680 L110,620 L80,510" fill="none" stroke="#000" stroke-width="13.93"/>
<path d="M0,1070 L220,1380" fill="none" stroke="#000" stroke-width="13.93"/>
<path d="M0,1250 L50,1230 L150,1340 L150,1380 L30,1560 L0,1600" fill="none" stroke="#000" stroke-width="13.93"/>
<path d="M330,930 L460,1040" fill="none" stroke="#000" stroke-width="13.93"/>
<path d="M260,1365 L440,1270" fill="none" stroke="#000" stroke-width="13.93"/>
<path d="M160,1620 L230,1700 L230,1741" fill="none" stroke="#000" stroke-width="13.93"/>
<path d="M160,1620 L300,1440 L460,1250" fill="none" stroke="#000" stroke-width="13.93"/>
<path d="M470,1030 L560,930" fill="none" stroke="#000" stroke-width="20.89"/>
<path d="M0,1560 L160,1400 L300,1260" fill="none" stroke="#000" stroke-width="13.93"/>
</g></g>
<clipPath id="c10"><rect x="680" y="1395" width="170" height="150"/></clipPath>
<g clip-path="url(#c10)"><g transform="translate(680,1360) scale(0.114877)">
<path d="M0,170 L200,430" fill="none" stroke="#000" stroke-width="17.41"/>
<path d="M470,65 L210,410 C190,460 195,540 240,575 C290,600 380,580 490,525" fill="none" stroke="#000" stroke-width="17.41"/>
<path d="M500,120 L300,380 C260,440 240,500 240,560" fill="none" stroke="#000" stroke-width="17.41"/>
<path d="M660,250 L665,300 L420,640 C395,690 395,760 430,810 C470,845 540,840 600,820 L710,760" fill="none" stroke="#000" stroke-width="17.41"/>
<path d="M740,330 L480,680 C450,740 445,790 450,810" fill="none" stroke="#000" stroke-width="17.41"/>
<path d="M750,330 L790,340 L870,460 L880,530 L840,580 L620,900 C595,950 600,1010 640,1060 C680,1090 760,1080 880,1030" fill="none" stroke="#000" stroke-width="17.41"/>
<path d="M700,420 L650,500" fill="none" stroke="#000" stroke-width="17.41"/>
<path d="M670,930 C650,980 645,1030 650,1060" fill="none" stroke="#000" stroke-width="17.41"/>
<path d="M930,580 L960,590 L1060,720 L1070,790 L1040,830 L810,1170 C790,1220 790,1270 830,1320 C870,1340 950,1330 1030,1300 L1180,1230" fill="none" stroke="#000" stroke-width="17.41"/>
<path d="M880,1030 L920,990" fill="none" stroke="#000" stroke-width="17.41"/>
<path d="M860,1140 C840,1190 835,1260 840,1320" fill="none" stroke="#000" stroke-width="17.41"/>
<path d="M840,300 C840,350 870,410 920,470 L1150,760 L1150,790 L900,1060" fill="none" stroke="#000" stroke-width="17.41"/>
<path d="M1150,1210 L1200,1200 C1300,1180 1450,1150 1600,1130 L1741,1090" fill="none" stroke="#000" stroke-width="17.41"/>
<path d="M1070,1060 L1080,1100 L1160,1200 L1150,1140" fill="none" stroke="#000" stroke-width="17.41"/>
</g></g>
<clipPath id="c11"><rect x="560" y="560" width="140" height="140"/></clipPath>
<g clip-path="url(#c11)"><g transform="translate(470,560) scale(0.126364)">
<path d="M1255,280 L1618,735 L1610,760 C1580,800 1540,825 1500,830 L1495,830 L1130,372" fill="#fff" stroke="#000" stroke-width="15.83"/>
<ellipse cx="1555.0" cy="790.0" rx="72.0" ry="22.0" transform="rotate(-38.0 1555.0 790.0)" fill="none" stroke="#000" stroke-width="15.83"/>
<ellipse cx="1560.0" cy="785.0" rx="40.0" ry="10.0" transform="rotate(-38.0 1560.0 785.0)" fill="none" stroke="#000" stroke-width="15.83"/>
<path d="M1175,425 C1200,390 1240,360 1278,352" fill="none" stroke="#000" stroke-width="15.83"/>
<path d="M1228,492 C1255,455 1295,428 1332,420" fill="none" stroke="#000" stroke-width="15.83"/>
<path d="M1282,560 C1310,522 1350,495 1386,487" fill="none" stroke="#000" stroke-width="15.83"/>
<path d="M1336,628 C1365,590 1405,563 1440,555" fill="none" stroke="#000" stroke-width="15.83"/>
<path d="M1390,696 C1420,658 1460,631 1494,623" fill="none" stroke="#000" stroke-width="15.83"/>
<path d="M1444,764 C1475,726 1515,699 1548,691" fill="none" stroke="#000" stroke-width="15.83"/>
<path d="M960,245 L1040,160 L1100,112 L1180,88 L1200,95 L1232,150 L1100,300 L1010,335 C990,310 970,280 960,245 Z" fill="#fff" stroke="#000" stroke-width="15.83"/>
<path d="M1075,150 L1125,225" fill="none" stroke="#000" stroke-width="15.83"/>
<path d="M1125,225 L1230,150" fill="none" stroke="#000" stroke-width="15.83"/>
<path d="M1040,165 L1090,235 L1125,225" fill="none" stroke="#000" stroke-width="15.83"/>
<path d="M975,270 L1015,330" fill="none" stroke="#000" stroke-width="15.83"/>
<ellipse cx="1160.0" cy="282.0" rx="178.0" ry="42.0" transform="rotate(-37.0 1160.0 282.0)" fill="#fff" stroke="#000" stroke-width="15.83"/>
<ellipse cx="1165.0" cy="278.0" rx="160.0" ry="28.0" transform="rotate(-37.0 1165.0 278.0)" fill="none" stroke="#000" stroke-width="15.83"/>
<path d="M1115,340 C1150,300 1200,280 1245,275" fill="none" stroke="#000" stroke-width="15.83"/>
<path d="M1580,800 L1741,1000" fill="none" stroke="#000" stroke-width="15.83"/>
</g></g>
<clipPath id="c12"><rect x="800" y="560" width="210" height="240"/></clipPath>
<g clip-path="url(#c12)"><g transform="translate(740,560) scale(0.201034)">
<path d="M680,230 L1305,1010 L1300,1030 C1280,1060 1240,1080 1200,1090 L1180,1110 L560,330" fill="#fff" stroke="#000" stroke-width="9.95"/>
<ellipse cx="1240.0" cy="1060.0" rx="72.0" ry="22.0" transform="rotate(-38.0 1240.0 1060.0)" fill="none" stroke="#000" stroke-width="9.95"/>
<ellipse cx="1245.0" cy="1055.0" rx="40.0" ry="10.0" transform="rotate(-38.0 1245.0 1055.0)" fill="none" stroke="#000" stroke-width="9.95"/>
<path d="M960,830 C990,790 1030,760 1078,740" fill="none" stroke="#000" stroke-width="9.95"/>
<path d="M1005,885 C1035,845 1075,815 1122,795" fill="none" stroke="#000" stroke-width="9.95"/>
<path d="M1050,940 C1080,900 1120,870 1166,850" fill="none" stroke="#000" stroke-width="9.95"/>
<path d="M1095,995 C1125,955 1165,925 1210,905" fill="none" stroke="#000" stroke-width="9.95"/>
<path d="M1140,1050 C1170,1010 1210,980 1254,960" fill="none" stroke="#000" stroke-width="9.95"/>
<path d="M1170,1090 C1200,1050 1240,1020 1280,1005" fill="none" stroke="#000" stroke-width="9.95"/>
<path d="M415,212 L510,128 L600,68 L610,72 L660,140 L560,290 L460,300 C440,270 420,240 415,212 Z" fill="#fff" stroke="#000" stroke-width="9.95"/>
<path d="M510,128 L560,200 L660,140" fill="none" stroke="#000" stroke-width="9.95"/>
<path d="M560,200 L540,300" fill="none" stroke="#000" stroke-width="9.95"/>
<path d="M430,250 L480,295" fill="none" stroke="#000" stroke-width="9.95"/>
<ellipse cx="590.0" cy="258.0" rx="165.0" ry="40.0" transform="rotate(-37.0 590.0 258.0)" fill="#fff" stroke="#000" stroke-width="9.95"/>
<ellipse cx="595.0" cy="252.0" rx="145.0" ry="25.0" transform="rotate(-37.0 595.0 252.0)" fill="none" stroke="#000" stroke-width="9.95"/>
<path d="M550,310 C590,270 640,245 690,235" fill="none" stroke="#000" stroke-width="9.95"/>
<path d="M1250,1075 L1380,1240" fill="none" stroke="#000" stroke-width="9.95"/>
</g></g>
<clipPath id="c13"><rect x="980" y="790" width="150" height="150"/></clipPath>
<g clip-path="url(#c13)"><g transform="translate(980,790) scale(0.086157)">
<path d="M260,0 L440,220" fill="none" stroke="#000" stroke-width="23.21"/>
<path d="M1010,270 C960,235 880,235 800,255 C650,300 500,380 400,460 C340,510 310,560 300,620 L310,680 C250,740 200,800 180,860 C165,920 180,980 230,1030 C270,1070 320,1085 400,1075 C500,1050 600,1010 700,970 C740,950 760,900 750,850 L740,760 L800,650 C850,580 950,500 1000,440 C1040,380 1040,320 1010,270 Z" fill="none" stroke="#000" stroke-width="23.21"/>
<path d="M990,295 C900,285 750,320 620,380 C500,440 400,510 350,590 L330,650" fill="none" stroke="#000" stroke-width="23.21"/>
<path d="M510,590 C520,540 600,480 700,440 C760,415 820,405 850,420 C850,470 800,510 740,540 C660,580 580,610 510,600 Z" fill="none" stroke="#000" stroke-width="23.21"/>
<path d="M545,570 L820,432" fill="none" stroke="#000" stroke-width="23.21"/>
<path d="M310,900 C300,850 330,800 390,740 L420,715 L440,730 C460,790 500,830 560,830 C630,820 660,780 670,720 L740,640" fill="none" stroke="#000" stroke-width="23.21"/>
<path d="M480,715 L700,650" fill="none" stroke="#000" stroke-width="23.21"/>
<path d="M220,910 L310,900 L500,870 L640,820" fill="none" stroke="#000" stroke-width="23.21"/>
<path d="M190,920 C200,990 250,1040 320,1075" fill="none" stroke="#000" stroke-width="34.82"/>
<path d="M680,660 L730,640" fill="none" stroke="#000" stroke-width="40.62"/>
<path d="M740,590 L1160,1110 L1160,1130 L90,1741" fill="none" stroke="#000" stroke-width="23.21"/>
</g></g>
<clipPath id="c14"><rect x="880" y="870" width="220" height="170"/></clipPath>
<g clip-path="url(#c14)"><g transform="translate(880,870) scale(0.126364)">
<path d="M1480,0 L1590,120 L1590,125 L540,735 L540,740 L1310,1700" fill="none" stroke="#000" stroke-width="15.83"/>
<path d="M0,420 L620,1215" fill="none" stroke="#000" stroke-width="15.83"/>
<path d="M0,1741 L850,1258 L1010,1430 L1000,1460" fill="none" stroke="#000" stroke-width="15.83"/>
<path d="M610,1580 L810,1460 L1000,1440" fill="none" stroke="#000" stroke-width="15.83"/>
<path d="M610,1580 L620,1630" fill="none" stroke="#000" stroke-width="15.83"/>
<path d="M1120,1450 L1250,1390 L1310,1440 L1280,1530 L1230,1741" fill="none" stroke="#000" stroke-width="15.83"/>
<path d="M1300,1741 L1640,1560 L1741,1530" fill="none" stroke="#000" stroke-width="15.83"/>
<path d="M1320,1700 L1650,1520 L1741,1500" fill="none" stroke="#000" stroke-width="15.83"/>
<path d="M820,1600 L960,1500" fill="none" stroke="#000" stroke-width="23.74"/>
</g></g>
<clipPath id="c15"><rect x="440" y="1260" width="160" height="140"/></clipPath>
<g clip-path="url(#c15)"><g transform="translate(440,1260) scale(0.114877)">
<path d="M370,760 L700,580 L960,450 C1040,450 1110,490 1120,560 L1125,620 C1110,660 1050,690 980,720 L570,970" fill="none" stroke="#000" stroke-width="16.54"/>
<path d="M350,730 C300,740 265,790 265,860 C270,940 300,1000 360,1040 C400,1070 430,1080 470,1080 C510,1070 540,1040 560,1000 C570,960 565,900 550,860 L530,830" fill="none" stroke="#000" stroke-width="16.54"/>
<ellipse cx="395.0" cy="920.0" rx="70.0" ry="105.0" transform="rotate(-22.0 395.0 920.0)" fill="none" stroke="#000" stroke-width="16.54"/>
<path d="M320,820 C330,790 350,770 370,770" fill="none" stroke="#000" stroke-width="17.41"/>
<path d="M360,780 C400,790 440,820 460,860" fill="none" stroke="#000" stroke-width="26.12"/>
<path d="M500,850 C520,830 540,830 550,860 C565,900 570,960 560,1010 C550,1040 520,1060 490,1070" fill="none" stroke="#000" stroke-width="17.41"/>
<path d="M1190,450 L1420,320 L1741,130" fill="none" stroke="#000" stroke-width="17.41"/>
</g></g>
<clipPath id="c16"><rect x="0" y="0" width="1828" height="2205"/></clipPath>
<g clip-path="url(#c16)"><g transform="translate(0,0) scale(1.000000)">
<path d="M669,662 L753.5,767.5" fill="none" stroke="#000" stroke-width="2.00"/>
<path d="M799.6,823.5 L958.3,1023.5" fill="none" stroke="#000" stroke-width="2.00"/>
<path d="M1147,1212 L1243,1328" fill="none" stroke="#000" stroke-width="2.00"/>
<path d="M1172,1245.3 L1148.9,1279.3 L1126,1305.8 L1097.2,1330" fill="none" stroke="#000" stroke-width="2.00"/>
</g></g>
<clipPath id="c17"><rect x="845" y="1180" width="85" height="120"/></clipPath>
<g clip-path="url(#c17)"><g transform="translate(780,1150) scale(0.086157)">
<path d="M1280,0 L1250,60 L1040,560 L870,890" fill="none" stroke="#000" stroke-width="23.21"/>
<path d="M620,600 L870,890 L1050,1110" fill="none" stroke="#000" stroke-width="23.21"/>
<path d="M1040,580 C1100,630 1180,720 1230,760 C1280,790 1330,800 1370,800" fill="none" stroke="#000" stroke-width="23.21"/>
<path d="M1370,800 C1450,740 1550,680 1620,662 L1741,660" fill="none" stroke="#000" stroke-width="23.21"/>
<path d="M1050,1110 L1200,990 L1380,820" fill="none" stroke="#000" stroke-width="30.18"/>
<path d="M1230,960 L1741,690" fill="none" stroke="#000" stroke-width="23.21"/>
<path d="M1240,985 L1741,720" fill="none" stroke="#000" stroke-width="23.21"/>
<path d="M1420,910 L1520,850" fill="none" stroke="#000" stroke-width="40.62"/>
<path d="M700,1450 L1050,1120" fill="none" stroke="#000" stroke-width="23.21"/>
<path d="M600,1741 L700,1620 L1050,1290 L1350,1050 L1741,760" fill="none" stroke="#000" stroke-width="23.21"/>
<path d="M730,1741 L1000,1500 L1300,1250 L1620,970 L1741,820" fill="none" stroke="#000" stroke-width="23.21"/>
<path d="M1000,1741 L1200,1560 L1500,1300 L1741,1100" fill="none" stroke="#000" stroke-width="23.21"/>
<path d="M1130,1741 L1400,1510 L1741,1230" fill="none" stroke="#000" stroke-width="23.21"/>
<path d="M1410,1741 L1741,1420" fill="none" stroke="#000" stroke-width="23.21"/>
<path d="M1600,1741 L1741,1640" fill="none" stroke="#000" stroke-width="23.21"/>
<path d="M1630,990 L1720,1100" fill="none" stroke="#000" stroke-width="23.21"/>
<path d="M1210,1400 L1250,1450" fill="none" stroke="#000" stroke-width="23.21"/>
<path d="M570,1620 L180,1160" fill="none" stroke="#000" stroke-width="23.21"/>
<path d="M680,1480 L250,950" fill="none" stroke="#000" stroke-width="34.82"/>
<path d="M630,1530 L150,930" fill="none" stroke="#000" stroke-width="23.21"/>
<path d="M560,1640 L500,1741" fill="none" stroke="#000" stroke-width="23.21"/>
<path d="M680,1480 L570,1620" fill="none" stroke="#000" stroke-width="23.21"/>
</g></g>
<clipPath id="c18"><rect x="780" y="1170" width="420" height="370"/></clipPath>
<g clip-path="url(#c18)"><g transform="translate(796,1179) scale(0.229753)">
<path d="M75,1395 L300,1370 C350,1350 420,1310 500,1270 L700,1165 C850,1080 1000,990 1160,880 C1250,800 1310,720 1340,650 L1355,610 L1350,560 C1360,510 1400,450 1450,380 C1500,300 1540,230 1570,190 C1600,140 1630,110 1665,70 L1670,52 L1640,48 L1540,98 L1490,105 C1440,110 1390,140 1340,190 C1280,240 1200,290 1100,350 C950,440 820,510 720,590 C600,690 480,790 400,870 C330,940 285,990 268,1040 L255,1072 L280,1085 L277,1140 C265,1190 240,1220 200,1265 C150,1315 110,1355 75,1395 Z" fill="#fff" stroke="#000" stroke-width="8.71"/>
<ellipse cx="955.0" cy="665.0" rx="633.0" ry="137.0" transform="rotate(-38.3 955.0 665.0)" fill="none" stroke="#000" stroke-width="8.71"/>
<ellipse cx="948.0" cy="657.0" rx="605.0" ry="118.0" transform="rotate(-38.3 948.0 657.0)" fill="none" stroke="#000" stroke-width="11.32"/>
<ellipse cx="1400.0" cy="195.0" rx="60.0" ry="18.0" transform="rotate(-45.0 1400.0 195.0)" fill="none" stroke="#000" stroke-width="8.71"/>
<ellipse cx="1535.0" cy="160.0" rx="55.0" ry="16.0" transform="rotate(-45.0 1535.0 160.0)" fill="none" stroke="#000" stroke-width="8.71"/>
<ellipse cx="760.0" cy="610.0" rx="65.0" ry="22.0" transform="rotate(-35.0 760.0 610.0)" fill="none" stroke="#000" stroke-width="8.71"/>
<ellipse cx="558.0" cy="800.0" rx="70.0" ry="22.0" transform="rotate(-40.0 558.0 800.0)" fill="none" stroke="#000" stroke-width="8.71"/>
<ellipse cx="1225.0" cy="705.0" rx="65.0" ry="22.0" transform="rotate(-35.0 1225.0 705.0)" fill="none" stroke="#000" stroke-width="8.71"/>
<ellipse cx="362.0" cy="1100.0" rx="65.0" ry="20.0" transform="rotate(-40.0 362.0 1100.0)" fill="none" stroke="#000" stroke-width="8.71"/>
<ellipse cx="210.0" cy="1295.0" rx="65.0" ry="20.0" transform="rotate(-40.0 210.0 1295.0)" fill="none" stroke="#000" stroke-width="8.71"/>
<path d="M745,1080 C760,1040 850,960 1000,870 L1078,820 C1080,845 1000,920 900,990 C820,1050 770,1082 745,1080 Z" fill="none" stroke="#000" stroke-width="8.71"/>
<path d="M532,1212 C550,1170 600,1120 700,1040 L745,1010 C750,1025 740,1045 700,1090 C650,1150 600,1190 545,1218 Z" fill="none" stroke="#000" stroke-width="8.71"/>
<path d="M255,1330 C300,1290 400,1220 545,1125 C550,1140 540,1160 470,1220 C420,1270 380,1300 330,1330 Z" fill="none" stroke="#000" stroke-width="8.71"/>
</g></g>
<clipPath id="c19"><rect x="900" y="1300" width="420" height="370"/></clipPath>
<g clip-path="url(#c19)"><g transform="translate(910,1320) scale(0.229753)">
<path d="M75,1395 L300,1370 C350,1350 420,1310 500,1270 L700,1165 C850,1080 1000,990 1160,880 C1250,800 1310,720 1340,650 L1355,610 L1350,560 C1360,510 1400,450 1450,380 C1500,300 1540,230 1570,190 C1600,140 1630,110 1665,70 L1670,52 L1640,48 L1540,98 L1490,105 C1440,110 1390,140 1340,190 C1280,240 1200,290 1100,350 C950,440 820,510 720,590 C600,690 480,790 400,870 C330,940 285,990 268,1040 L255,1072 L280,1085 L277,1140 C265,1190 240,1220 200,1265 C150,1315 110,1355 75,1395 Z" fill="#fff" stroke="#000" stroke-width="8.71"/>
<ellipse cx="955.0" cy="665.0" rx="633.0" ry="137.0" transform="rotate(-38.3 955.0 665.0)" fill="none" stroke="#000" stroke-width="8.71"/>
<ellipse cx="948.0" cy="657.0" rx="605.0" ry="118.0" transform="rotate(-38.3 948.0 657.0)" fill="none" stroke="#000" stroke-width="11.32"/>
<ellipse cx="1400.0" cy="195.0" rx="60.0" ry="18.0" transform="rotate(-45.0 1400.0 195.0)" fill="none" stroke="#000" stroke-width="8.71"/>
<ellipse cx="1535.0" cy="160.0" rx="55.0" ry="16.0" transform="rotate(-45.0 1535.0 160.0)" fill="none" stroke="#000" stroke-width="8.71"/>
<ellipse cx="760.0" cy="610.0" rx="65.0" ry="22.0" transform="rotate(-35.0 760.0 610.0)" fill="none" stroke="#000" stroke-width="8.71"/>
<ellipse cx="558.0" cy="800.0" rx="70.0" ry="22.0" transform="rotate(-40.0 558.0 800.0)" fill="none" stroke="#000" stroke-width="8.71"/>
<ellipse cx="1225.0" cy="705.0" rx="65.0" ry="22.0" transform="rotate(-35.0 1225.0 705.0)" fill="none" stroke="#000" stroke-width="8.71"/>
<ellipse cx="362.0" cy="1100.0" rx="65.0" ry="20.0" transform="rotate(-40.0 362.0 1100.0)" fill="none" stroke="#000" stroke-width="8.71"/>
<ellipse cx="210.0" cy="1295.0" rx="65.0" ry="20.0" transform="rotate(-40.0 210.0 1295.0)" fill="none" stroke="#000" stroke-width="8.71"/>
<path d="M745,1080 C760,1040 850,960 1000,870 L1078,820 C1080,845 1000,920 900,990 C820,1050 770,1082 745,1080 Z" fill="none" stroke="#000" stroke-width="8.71"/>
<path d="M532,1212 C550,1170 600,1120 700,1040 L745,1010 C750,1025 740,1045 700,1090 C650,1150 600,1190 545,1218 Z" fill="none" stroke="#000" stroke-width="8.71"/>
<path d="M255,1330 C300,1290 400,1220 545,1125 C550,1140 540,1160 470,1220 C420,1270 380,1300 330,1330 Z" fill="none" stroke="#000" stroke-width="8.71"/>
</g></g>
</svg></body></html>
